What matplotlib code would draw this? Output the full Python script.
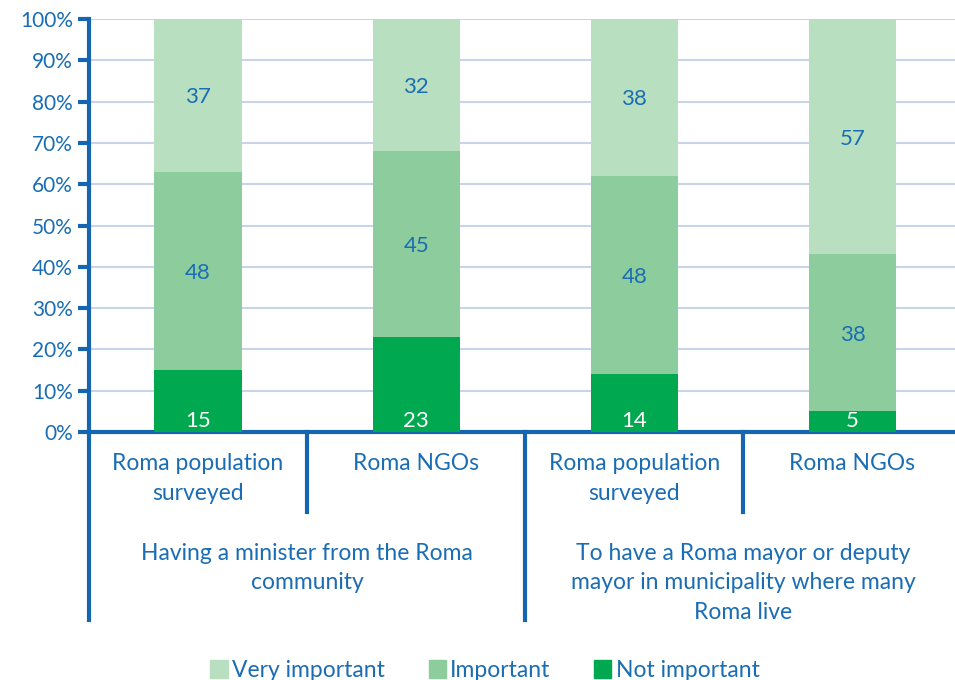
import matplotlib.pyplot as plt
from matplotlib.lines import Line2D
from matplotlib.patches import Patch

plt.rcParams['font.family'] = ['Lato', 'DejaVu Sans']

groups = ["Having a minister from the Roma\ncommunity",
          "To have a Roma mayor or deputy\nmayor in municipality where many\nRoma live"]
bars = ["Roma population\nsurveyed", "Roma NGOs", "Roma population\nsurveyed", "Roma NGOs"]
not_important = [15, 23, 14, 5]
important = [48, 45, 48, 38]
very_important = [37, 32, 38, 57]

blue = "#1a6db4"
line_blue = "#1565b0"
c_very = "#b8dfc0"
c_imp = "#8dcc9c"
c_not = "#00a84f"

fig = plt.figure(figsize=(9.55, 6.8), dpi=100)
ax = fig.add_axes([89 / 955, 1 - 432 / 680, 1 - 89 / 955, 413 / 680])

x = list(range(len(bars)))
w = 0.4
ax.bar(x, not_important, w, color=c_not, zorder=3)
bottom2 = not_important
ax.bar(x, important, w, bottom=bottom2, color=c_imp, zorder=3)
bottom3 = [a + b for a, b in zip(not_important, important)]
ax.bar(x, very_important, w, bottom=bottom3, color=c_very, zorder=3)

for i in x:
    ax.text(i, 3.2, str(not_important[i]), ha="center", va="center_baseline",
            color="white", fontsize=16, zorder=4)
    ax.text(i, not_important[i] + important[i] / 2, str(important[i]),
            ha="center", va="center_baseline", color=blue, fontsize=16, zorder=4)
    ax.text(i, bottom3[i] + very_important[i] / 2, str(very_important[i]),
            ha="center", va="center_baseline", color=blue, fontsize=16, zorder=4)

ax.set_ylim(0, 100)
ax.set_xlim(-0.5, 3.47)
ax.set_yticks(range(0, 101, 10))
ax.set_yticklabels([f"{v}%" for v in range(0, 101, 10)])
ax.tick_params(axis="y", colors=line_blue, labelcolor=blue, labelsize=15,
               length=8, width=3, direction="out")
ax.set_xticks([])
ax.yaxis.grid(True, color="#c9d3ea", linewidth=1.5, zorder=0)
ax.set_axisbelow(True)
for s in ["top", "right"]:
    ax.spines[s].set_visible(False)
ax.spines["left"].set_color(line_blue)
ax.spines["left"].set_linewidth(3)
ax.spines["bottom"].set_color(line_blue)
ax.spines["bottom"].set_linewidth(3)

tr = ax.get_xaxis_transform()
# separators of the two-level category axis
for xs, y_end in [(-0.5, -0.455), (0.5, -0.194), (1.5, -0.455), (2.5, -0.194)]:
    ax.add_line(Line2D([xs, xs], [0, y_end], transform=tr, color=line_blue,
                       linewidth=3, clip_on=False))

for i, lab in enumerate(bars):
    ax.text(i, -0.052, lab, transform=tr, ha="center", va="top", color=blue,
            fontsize=16.5, linespacing=1.5)
for g, lab in enumerate(groups):
    ax.text(0.5 + 2 * g, -0.268, lab, transform=tr, ha="center", va="top",
            color=blue, fontsize=16.5, linespacing=1.5)

handles = [Patch(color=c_very), Patch(color=c_imp), Patch(color=c_not)]
fig.legend(handles, ["Very important", "Important", "Not important"],
           loc="center", bbox_to_anchor=(0.508, 0.014), ncol=3, frameon=False,
           fontsize=16.5, labelcolor=blue, handlelength=0.75, handleheight=0.8,
           handletextpad=0.2, columnspacing=1.9)

fig.savefig("out.png", dpi=100)
